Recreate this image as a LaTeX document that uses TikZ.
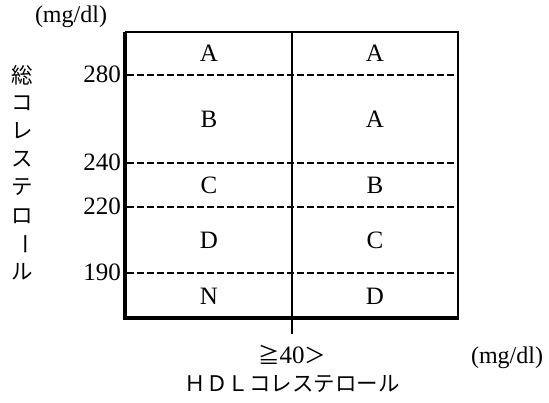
\documentclass[tikz,border=0pt]{standalone}
\usepackage{fontspec}
\setmainfont{Liberation Serif}
\newfontfamily\jpfont{Noto Sans CJK JP}
\begin{document}
\begin{tikzpicture}[x=1pt,y=-1pt,
  thinline/.style={line width=1.3pt},
  thickline/.style={line width=3.4pt},
  dashline/.style={line width=2.4pt,dash pattern=on 7pt off 3pt},
  cell/.style={font=\fontsize{25}{28}\selectfont},
  numlab/.style={anchor=east,inner sep=0pt,font=\fontsize{25}{28}\selectfont},
  unitlab/.style={inner sep=0pt,font=\fontsize{24}{26}\selectfont},
  jplab/.style={inner sep=0pt,font=\jpfont\fontsize{21.5}{24}\selectfont}]
\useasboundingbox (0,0) rectangle (549,403);
% corners
\coordinate (tl) at (125,32);
\coordinate (tr) at (458,32);
\coordinate (bl) at (125,318);
\coordinate (br) at (458,318);
\coordinate (mt) at (292,32);
\coordinate (mb) at (292,334);
% dashed lines
\foreach \n/\y in {a/75,b/163,c/207,d/273}{
  \coordinate (L\n) at (127,\y);
  \coordinate (R\n) at (458,\y);
  \draw[dashline] (L\n) -- (R\n);
}
% frame
\draw[thinline] (tl) -- (tr) -- (br);
\draw[thinline] (mt) -- (mb);
\draw[thickline] (tl) -- (bl) -- ([xshift=0.65pt]br);
% cell labels
\node[cell] (c1l) at (209,53.5) {A};
\node[cell] (c1r) at (375,53.5) {A};
\node[cell] (c2l) at (209,119) {B};
\node[cell] (c2r) at (375,119) {A};
\node[cell] (c3l) at (209,185) {C};
\node[cell] (c3r) at (375,185) {B};
\node[cell] (c4l) at (209,240) {D};
\node[cell] (c4r) at (375,240) {C};
\node[cell] (c5l) at (209,296) {N};
\node[cell] (c5r) at (375,296) {D};
% axis numbers
\node[numlab] (n280) at (121,74) {280};
\node[numlab] (n240) at (121,162) {240};
\node[numlab] (n220) at (121,206) {220};
\node[numlab] (n190) at (121,272) {190};
% units
\node[unitlab] (u1) at (71,17) {(mg/dl)};
\node[unitlab] (u2) at (507,358) {(mg/dl)};
% vertical axis title
\node[jplab] (v1) at (22,75) {総};
\node[jplab] (v2) at (22,103) {コ};
\node[jplab] (v3) at (22,131) {レ};
\node[jplab] (v4) at (22,159) {ス};
\node[jplab] (v5) at (22,187) {テ};
\node[jplab] (v6) at (22,216) {ロ};
\node[jplab,rotate=-90] (v7) at (22,244) {ー};
\node[jplab] (v8) at (22,272) {ル};
% bottom labels
\node[inner sep=0pt] (hd) at (292,355) {{\jpfont\fontsize{21.5}{24}\selectfont ≧}{\fontsize{25}{28}\selectfont 40}{\jpfont\fontsize{21.5}{24}\selectfont ＞}};
\node[jplab] (hdl) at (292,384) {ＨＤＬコレステロール};
\end{tikzpicture}
\end{document}
